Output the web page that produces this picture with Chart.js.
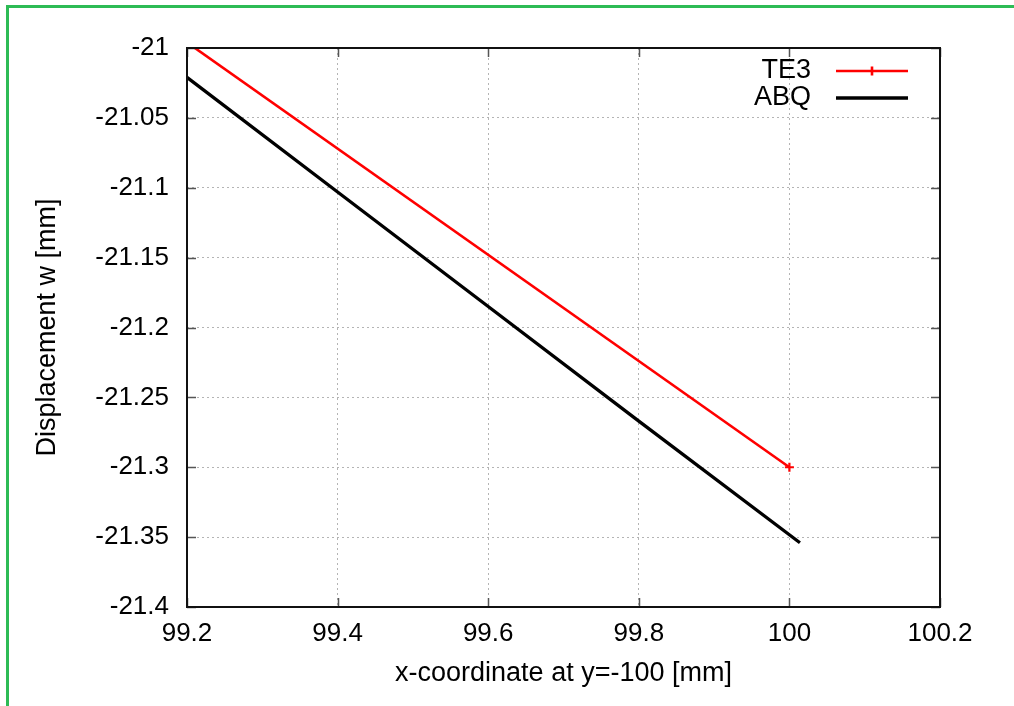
<!DOCTYPE html>
<html>
<head>
<meta charset="utf-8">
<script src="https://cdn.jsdelivr.net/npm/chart.js@4.4.1/dist/chart.umd.min.js"></script>
<style>
  body { margin: 0; background: #fff; overflow: hidden; }
  #wrap { position: relative; width: 1014px; height: 706px; }
  #frame { position: absolute; left: 6px; top: 5px; width: 1100px; height: 800px;
           border-left: 3px solid #2dbb55; border-top: 3px solid #2dbb55; }
  canvas { position: absolute; left: 0; top: 0; }
</style>
</head>
<body>
<div id="wrap">
  <canvas id="myChart" width="1014" height="706"></canvas>
  <div id="frame"></div>
</div>
<script>
// x positions and displacements
const te3X = [99.2, 100.0];
const te3W = [-20.996, -21.3];
const abqX = [99.2, 99.4, 99.6, 99.8, 100.014];
const abqW = [-21.021, -21.103, -21.185, -21.267, -21.354];

const xTicks = [99.2, 99.4, 99.6, 99.8, 100, 100.2];
const yTicks = [-21, -21.05, -21.1, -21.15, -21.2, -21.25, -21.3, -21.35, -21.4];

const FONT = 'Liberation Sans, Arial, Helvetica, sans-serif';

const toPoints = (xs, ys) => xs.map((x, i) => ({x: x, y: ys[i]}));
const fmt = v => String(Number(v.toFixed(3)));

// gnuplot style frame with inward ticks on all four sides
const framePlugin = {
  id: 'frame',
  afterDatasetsDraw(chart) {
    const {ctx, chartArea: a, scales} = chart;
    ctx.save();
    ctx.strokeStyle = '#555';
    ctx.lineWidth = 1.5;
    ctx.beginPath();
    xTicks.forEach(v => {
      const px = Math.round(scales.x.getPixelForValue(v)) + 0.5;
      ctx.moveTo(px, a.bottom); ctx.lineTo(px, a.bottom - 9);
      ctx.moveTo(px, a.top); ctx.lineTo(px, a.top + 9);
    });
    yTicks.forEach(v => {
      const py = Math.round(scales.y.getPixelForValue(v)) + 0.5;
      ctx.moveTo(a.left, py); ctx.lineTo(a.left + 9, py);
      ctx.moveTo(a.right, py); ctx.lineTo(a.right - 9, py);
    });
    ctx.stroke();
    ctx.strokeStyle = '#111';
    ctx.lineWidth = 2;
    ctx.strokeRect(a.left, a.top, a.right - a.left, a.bottom - a.top);
    ctx.restore();
  }
};

// legend in the top right corner, text before the line sample
const keyPlugin = {
  id: 'key',
  afterDraw(chart) {
    const {ctx, chartArea: a} = chart;
    ctx.save();
    ctx.font = '27px ' + FONT;
    ctx.textAlign = 'right';
    ctx.textBaseline = 'middle';
    chart.data.datasets.forEach((ds, i) => {
      const y = a.top + 23 + i * 27;
      ctx.fillStyle = '#000';
      ctx.fillText(ds.label, a.right - 129, y);
      ctx.strokeStyle = ds.borderColor;
      ctx.lineWidth = ds.borderWidth;
      ctx.beginPath();
      ctx.moveTo(a.right - 104, y); ctx.lineTo(a.right - 32, y);
      if (ds.keyMark) {
        const mx = a.right - 68;
        ctx.moveTo(mx, y - 4.5); ctx.lineTo(mx, y + 4.5);
      }
      ctx.stroke();
    });
    ctx.restore();
  }
};

const data = {
  datasets: [
    {
      label: 'TE3',
      data: toPoints(te3X, te3W),
      borderColor: '#ff0000',
      backgroundColor: '#ff0000',
      borderWidth: 2.6,
      pointStyle: 'cross',
      pointRadius: [0, 4.5],
      pointBorderWidth: 2.2,
      keyMark: true,
      clip: 0
    },
    {
      label: 'ABQ',
      data: toPoints(abqX, abqW),
      borderColor: '#000000',
      backgroundColor: '#000000',
      borderWidth: 3.3,
      pointRadius: 0,
      clip: 0
    }
  ]
};

const config = {
  type: 'line',
  data: data,
  options: {
    responsive: false,
    animation: false,
    layout: { padding: { left: 0, top: 48, right: 74, bottom: 0 } },
    plugins: { legend: { display: false }, tooltip: { enabled: false } },
    scales: {
      x: {
        type: 'linear',
        min: 99.2,
        max: 100.2,
        afterFit: s => { s.height = 99; },
        afterBuildTicks: s => { s.ticks = xTicks.map(v => ({value: v})); },
        ticks: { font: {family: FONT, size: 26}, color: '#000', padding: 11, callback: fmt, maxRotation: 0 },
        grid: { color: '#b4b4b4', lineWidth: 1, drawTicks: false },
        border: { display: false, dash: [2, 3] },
        title: { display: true, text: 'x-coordinate at y=-100 [mm]', color: '#000',
                 font: {family: FONT, size: 27}, padding: {top: 0, bottom: 16} }
      },
      y: {
        type: 'linear',
        min: -21.4,
        max: -21,
        afterFit: s => { s.width = 187; },
        afterBuildTicks: s => { s.ticks = yTicks.map(v => ({value: v})); },
        ticks: { font: {family: FONT, size: 26}, color: '#000', padding: 18, callback: fmt },
        grid: { color: '#b4b4b4', lineWidth: 1, drawTicks: false },
        border: { display: false, dash: [2, 3] },
        title: { display: true, text: 'Displacement w [mm]', color: '#000',
                 font: {family: FONT, size: 27}, padding: {top: 31, bottom: 0} }
      }
    }
  },
  plugins: [framePlugin, keyPlugin]
};

new Chart(document.getElementById('myChart'), config);
</script>
</body>
</html>
